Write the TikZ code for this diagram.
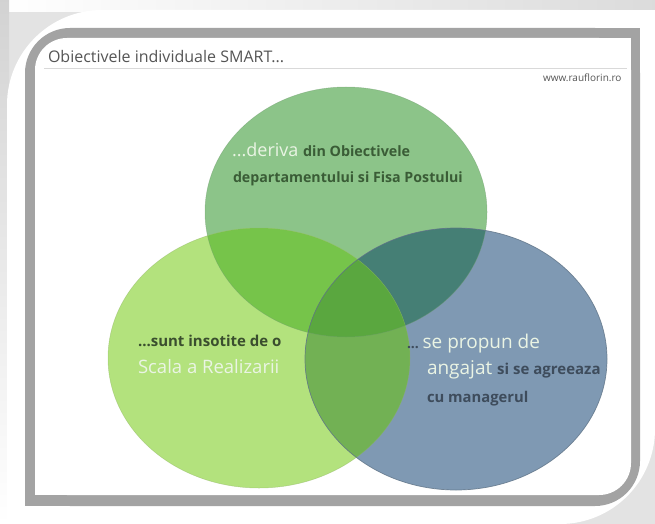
\documentclass[tikz,border=0pt]{standalone}
\usepackage{fontspec}
\setmainfont{Open Sans}
\definecolor{topg}{RGB}{140,196,137}
\definecolor{leftg}{RGB}{179,226,125}
\definecolor{blueg}{RGB}{127,153,179}
\definecolor{tlc}{RGB}{118,196,74}
\definecolor{trc}{RGB}{69,127,117}
\definecolor{lrc}{RGB}{114,177,84}
\definecolor{cc}{RGB}{90,167,63}
\definecolor{lighttext}{RGB}{234,244,228}
\definecolor{darkgreen}{RGB}{58,92,54}
\definecolor{darkleft}{RGB}{58,78,46}
\definecolor{darkblue}{RGB}{62,76,92}
\definecolor{bandgray}{RGB}{163,163,163}
\definecolor{titlegray}{RGB}{85,85,85}
\tikzset{
  txt/.style={anchor=base west, inner sep=0pt, outer sep=0pt},
}
\newcommand{\fs}[1]{\fontsize{#1}{#1}\selectfont}
\begin{document}
\begin{tikzpicture}[x=1pt,y=-1pt]
\useasboundingbox (0,0) rectangle (655,524);
% background shadow
\fill[gray!22] (0,0) rectangle (655,524);
\shade[left color=white, right color=gray!28] (0,0) rectangle (655,12);
\shade[top color=gray!35, bottom color=white] (0,0) rectangle (9,524);
% white frame
\fill[white, rounded corners=95] (7,10) rectangle (655,524);
\fill[white] (560,10) rectangle (655,110);
\fill[white] (7,430) rectangle (110,524);
% gray band
\fill[bandgray, rounded corners=45] (25,28) rectangle (640,506);
\fill[bandgray] (590,28) rectangle (640,80);
\fill[bandgray] (25,456) rectangle (80,506);
% inner slide
\fill[white, rounded corners=32] (35,38) rectangle (631,495);
\fill[white] (595,38) rectangle (631,75);
\fill[white] (35,460) rectangle (70,495);
% title
\node[txt, text=titlegray] (title) at (48,63) {\fs{16}Obiectivele individuale SMART...};
\draw[gray!30, line width=1.6] (44,68.5) -- (627,68.5);
\node[txt, text=titlegray] (web) at (543,82) {\fs{10}www.rauflorin.ro};
% ellipses
\def\topE{(346,212) ellipse [x radius=141, y radius=125]}
\def\leftE{(259,358) ellipse [x radius=151, y radius=130]}
\def\rightE{(456,359) ellipse [x radius=151, y radius=131]}
\fill[topg] \topE;
\fill[leftg] \leftE;
\fill[blueg] \rightE;
\begin{scope}
  \clip \topE;
  \fill[tlc] \leftE;
  \fill[trc] \rightE;
\end{scope}
\begin{scope}
  \clip \leftE;
  \fill[lrc] \rightE;
  \clip \topE;
  \fill[cc] \rightE;
\end{scope}
\draw[topg!80!black, line width=0.5, opacity=0.5] \topE;
\draw[leftg!80!black, line width=0.5, opacity=0.5] \leftE;
\draw[blueg!75!black, line width=0.7, opacity=0.8] \rightE;
% texts
\node[txt] (a1) at (232,156) {\color{lighttext}\fs{18}...deriva \color{darkgreen}\bfseries\fs{14.3}din Obiectivele};
\node[txt, text=darkgreen] (a2) at (233,182) {\fs{14.2}\bfseries departamentului si Fisa Postului};
\node[txt, text=darkleft] (b1) at (138,346) {\fs{15}\bfseries ...sunt insotite de o};
\node[txt, text=lighttext] (b2) at (138,373) {\fs{18.5}Scala a Realizarii};
\node[txt] (c1) at (407,348) {\color{darkblue}\fs{14}\bfseries...\ \color{lighttext}\mdseries\fs{19}se propun de};
\node[txt] (c2) at (427,374) {\color{lighttext}\fs{19}angajat \color{darkblue}\bfseries\fs{15}si se agreeaza};
\node[txt, text=darkblue] (c3) at (427,402) {\fs{14.8}\bfseries cu managerul};
\end{tikzpicture}
\end{document}
